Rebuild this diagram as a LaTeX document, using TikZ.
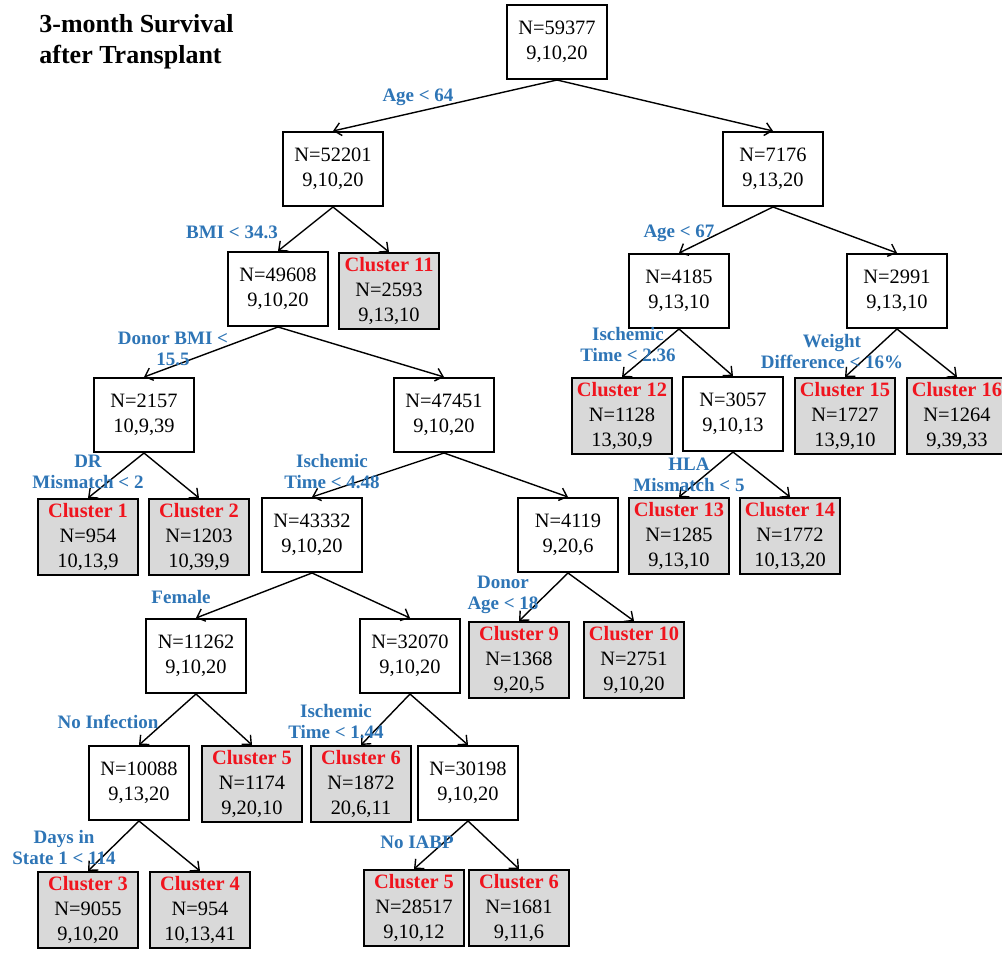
\documentclass[tikz,border=0pt]{standalone}
\usepackage{fontspec}
\setmainfont{Liberation Serif}
\usetikzlibrary{arrows.meta}
\definecolor{cllabel}{RGB}{46,117,182}
\definecolor{clred}{RGB}{240,20,30}
\definecolor{clfill}{RGB}{217,217,217}
\tikzset{
	split/.style={draw,line width=1pt,minimum width=50pt,minimum height=37pt,inner sep=1pt,align=center,font=\fontsize{10.2}{12.5}\selectfont},
	leaf/.style={split,fill=clfill,minimum height=38pt},
	cond/.style={text=cllabel,font=\fontsize{9.5}{10.5}\selectfont\bfseries,align=center,inner sep=0pt},
	branch/.style={line width=0.7pt,-{Straight Barb[length=3.5pt,width=6.5pt]}}
}
\newcommand{\clus}[1]{{\bfseries\color{clred}Cluster #1}}
\begin{document}
\begin{tikzpicture}[x=0.5pt,y=-0.5pt]
				\useasboundingbox (0,0) rectangle (1002,957);
				%%%%% title %%%%%
				\node[anchor=west,align=left,inner sep=0pt,font=\fontsize{13}{15.5}\selectfont\bfseries] (title) at (39,42) {3-month Survival\\after Transplant};

				%%%%% splits %%%%%
				\node[split] (root) at (557,42) {N=59377\\9,10,20};
				\node[split] (n52201) at (333,169) {N=52201\\9,10,20};
				\node[split] (n7176) at (773,169) {N=7176\\9,13,20};
				\node[split] (n49608) at (278,289) {N=49608\\9,10,20};
				\node[split] (n4185) at (679,291) {N=4185\\9,13,10};
				\node[split] (n2991) at (897,291) {N=2991\\9,13,10};
				\node[split] (n2157) at (144,415) {N=2157\\10,9,39};
				\node[split] (n47451) at (444,415) {N=47451\\9,10,20};
				\node[split] (n3057) at (733,414) {N=3057\\9,10,13};
				\node[split] (n43332) at (312,535) {N=43332\\9,10,20};
				\node[split] (n4119) at (568,535) {N=4119\\9,20,6};
				\node[split] (n11262) at (196,656) {N=11262\\9,10,20};
				\node[split] (n32070) at (410,656) {N=32070\\9,10,20};
				\node[split] (n10088) at (139,783) {N=10088\\9,13,20};
				\node[split] (n30198) at (468,783) {N=30198\\9,10,20};

				%%%%% clusters %%%%%
				\node[leaf] (c11) at (389,291) {\clus{11}\\N=2593\\9,13,10};
				\node[leaf] (c12) at (622,416) {\clus{12}\\N=1128\\13,30,9};
				\node[leaf] (c15) at (845,416) {\clus{15}\\N=1727\\13,9,10};
				\node[leaf] (c16) at (957,416) {\clus{16}\\N=1264\\9,39,33};
				\node[leaf] (c1) at (88,537) {\clus{1}\\N=954\\10,13,9};
				\node[leaf] (c2) at (199,537) {\clus{2}\\N=1203\\10,39,9};
				\node[leaf] (c13) at (679,536) {\clus{13}\\N=1285\\9,13,10};
				\node[leaf] (c14) at (790,536) {\clus{14}\\N=1772\\10,13,20};
				\node[leaf] (c9) at (519,660) {\clus{9}\\N=1368\\9,20,5};
				\node[leaf] (c10) at (634,660) {\clus{10}\\N=2751\\9,10,20};
				\node[leaf] (c5) at (252,784) {\clus{5}\\N=1174\\9,20,10};
				\node[leaf] (c6) at (361,784) {\clus{6}\\N=1872\\20,6,11};
				\node[leaf] (c3) at (88,910) {\clus{3}\\N=9055\\9,10,20};
				\node[leaf] (c4) at (200,910) {\clus{4}\\N=954\\10,13,41};
				\node[leaf] (c5b) at (414,908) {\clus{5}\\N=28517\\9,10,12};
				\node[leaf] (c6b) at (519,908) {\clus{6}\\N=1681\\9,11,6};

				%%%%% branches %%%%%
				\draw[branch] (root.south) -- (n52201.north);
				\draw[branch] (root.south) -- (n7176.north);
				\draw[branch] (n52201.south) -- (n49608.north);
				\draw[branch] (n52201.south) -- (c11.north);
				\draw[branch] (n7176.south) -- (n4185.north);
				\draw[branch] (n7176.south) -- (n2991.north);
				\draw[branch] (n49608.south) -- (n2157.north);
				\draw[branch] (n49608.south) -- (n47451.north);
				\draw[branch] (n4185.south) -- (c12.north);
				\draw[branch] (n4185.south) -- (n3057.north);
				\draw[branch] (n2991.south) -- (c15.north);
				\draw[branch] (n2991.south) -- (c16.north);
				\draw[branch] (n2157.south) -- (c1.north);
				\draw[branch] (n2157.south) -- (c2.north);
				\draw[branch] (n47451.south) -- (n43332.north);
				\draw[branch] (n47451.south) -- (n4119.north);
				\draw[branch] (n3057.south) -- (c13.north);
				\draw[branch] (n3057.south) -- (c14.north);
				\draw[branch] (n43332.south) -- (n11262.north);
				\draw[branch] (n43332.south) -- (n32070.north);
				\draw[branch] (n4119.south) -- (c9.north);
				\draw[branch] (n4119.south) -- (c10.north);
				\draw[branch] (n11262.south) -- (n10088.north);
				\draw[branch] (n11262.south) -- (c5.north);
				\draw[branch] (n32070.south) -- (c6.north);
				\draw[branch] (n32070.south) -- (n30198.north);
				\draw[branch] (n10088.south) -- (c3.north);
				\draw[branch] (n10088.south) -- (c4.north);
				\draw[branch] (n30198.south) -- (c5b.north);
				\draw[branch] (n30198.south) -- (c6b.north);

				%%%%% split rules %%%%%
				\node[cond] (q1) at (418,97) {Age < 64};
				\node[cond] (q2) at (232,232) {BMI < 34.3};
				\node[cond] (q3) at (679,233) {Age < 67};
				\node[cond] (q4) at (173,349) {Donor BMI <\\15.5};
				\node[cond] (q5) at (628,345) {Ischemic\\Time < 2.36};
				\node[cond] (q6) at (832,352) {Weight\\Difference < 16\%};
				\node[cond] (q7) at (88,472) {DR\\Mismatch < 2};
				\node[cond] (q8) at (332,472) {Ischemic\\Time < 4.48};
				\node[cond] (q9) at (689,475) {HLA\\Mismatch < 5};
				\node[cond] (q10) at (181,597) {Female};
				\node[cond] (q11) at (503,595) {Donor\\Age < 18};
				\node[cond] (q12) at (108,722) {No Infection};
				\node[cond] (q13) at (336,722) {Ischemic\\Time < 1.44};
				\node[cond] (q14) at (64,847) {Days in\\State 1 < 114};
				\node[cond] (q15) at (417,842) {No IABP};
\end{tikzpicture}
\end{document}
